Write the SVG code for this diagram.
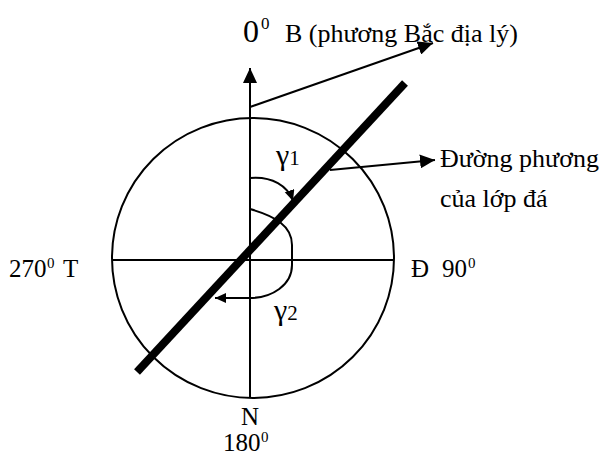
<svg xmlns="http://www.w3.org/2000/svg" width="605" height="455" viewBox="0 0 605 455">
<style>
.t{font-family:"Liberation Serif","Times New Roman",serif;fill:#000}
.ln{stroke:#000;stroke-width:2;fill:none}
</style>
<defs>
<marker id="ah" markerUnits="userSpaceOnUse" markerWidth="16" markerHeight="14" refX="15" refY="7" orient="auto">
<path d="M0,0 L15,7 L0,14 Z" fill="#000"/>
</marker>
<marker id="ahs" markerUnits="userSpaceOnUse" markerWidth="12" markerHeight="12" refX="11" refY="5" orient="auto">
<path d="M0,0 L11,5 L0,10 Z" fill="#000"/>
</marker>
</defs>
<rect width="605" height="455" fill="#fff"/>
<g id="circle">
<ellipse cx="253" cy="258" rx="141" ry="140" class="ln"/>
</g>
<g id="connectors">
<line x1="250" y1="398" x2="250" y2="68" class="ln" marker-end="url(#ah)"/>
<line x1="112" y1="260" x2="394" y2="260" class="ln"/>
<line x1="250" y1="107" x2="433" y2="43" class="ln" marker-end="url(#ah)"/>
<line x1="330" y1="170" x2="435" y2="160" class="ln" marker-end="url(#ah)"/>
<path d="M250,178 C272,176 288,186 293,201" class="ln" marker-end="url(#ahs)"/>
<path d="M250,209 C275,216 292,226 292,245 L292,265 C292,285 272,298 250,298 L215,298" class="ln" marker-end="url(#ahs)"/>
</g>
<g id="strike">
<line x1="137" y1="372" x2="405" y2="83" stroke="#000" stroke-width="8"/>
</g>
<g id="label-north">
<text class="t" x="243" y="42" font-size="32">0</text>
<text class="t" x="261" y="29" font-size="17">0</text>
<text class="t" x="285" y="42" font-size="26">B (phương Bắc địa lý)</text>
</g>
<g id="label-west">
<text class="t" x="9" y="277" font-size="25">270</text>
<text class="t" x="47" y="268" font-size="15">0</text>
<text class="t" x="63" y="277" font-size="25">T</text>
</g>
<g id="label-east">
<text class="t" x="411" y="277" font-size="25">Đ</text>
<text class="t" x="442" y="277" font-size="25">90</text>
<text class="t" x="468" y="268" font-size="15">0</text>
</g>
<g id="label-south">
<text class="t" x="250" y="425" font-size="25" text-anchor="middle">N</text>
<text class="t" x="223" y="451" font-size="25">180</text>
<text class="t" x="261" y="442" font-size="15">0</text>
</g>
<g id="label-strike">
<text class="t" x="440" y="167" font-size="26">Đường phương</text>
<text class="t" x="440" y="207" font-size="26">của lớp đá</text>
</g>
<g id="gamma1">
<text class="t" x="276" y="165" font-size="30">γ<tspan font-size="21">1</tspan></text>
</g>
<g id="gamma2">
<text class="t" x="274" y="320" font-size="30">γ<tspan font-size="21">2</tspan></text>
</g>
</svg>
